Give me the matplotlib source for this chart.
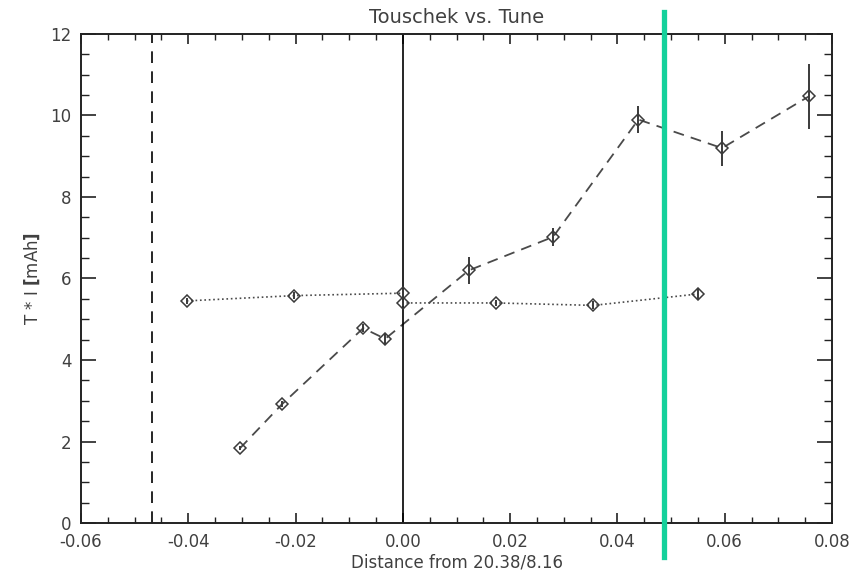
import numpy as np
import matplotlib
matplotlib.use('Agg')
from matplotlib import pyplot as plt
from matplotlib.ticker import MultipleLocator

# dashed scan (with errors)
scan_x = [-0.0304, -0.0225, -0.0074, -0.0033, 0.0123, 0.0280, 0.0439, 0.0595, 0.0757]
scan_y = [1.83, 2.92, 4.78, 4.52, 6.20, 7.02, 9.90, 9.20, 10.47]
scan_err = [0.05, 0.08, 0.10, 0.12, 0.33, 0.22, 0.33, 0.43, 0.80]

# dotted scan
flat_x = [-0.0403, -0.0203, 0.0, 0.0, 0.0174, 0.0355, 0.0550]
flat_y = [5.45, 5.58, 5.64, 5.40, 5.40, 5.34, 5.62]
flat_err = [0.08, 0.08, 0.10, 0.08, 0.08, 0.10, 0.12]

x_limit = -0.0468
x_green = 0.0487

plt.rcParams['font.family'] = 'DejaVu Sans'
fig = plt.figure(figsize=(8.63, 5.79), dpi=100)
ax = fig.add_axes([0.0939, 0.0967, 0.8702, 0.8446])

gray = '#3a3a3a'
ax.errorbar(scan_x, scan_y, yerr=scan_err, fmt='D', ms=6.5, mfc='none', mec=gray, mew=1.1,
            ecolor=gray, elinewidth=1.4, capsize=0, zorder=3)
ax.plot(scan_x, scan_y, '--', color='#4a4a4a', lw=1.3, dashes=(6, 4), zorder=2)
ax.errorbar(flat_x, flat_y, yerr=flat_err, fmt='D', ms=6.5, mfc='none', mec=gray, mew=1.1,
            ecolor=gray, elinewidth=1.4, capsize=0, zorder=3)
ax.plot(flat_x, flat_y, ':', color='#4a4a4a', lw=1.2, zorder=2)

ax.axvline(0.0, color='black', lw=1.2)
ax.axvline(x_limit, color='black', lw=1.2, dashes=(7, 5))
# green marker line runs past the frame top and bottom
ax.plot([x_green, x_green], [-0.07, 1.045], transform=ax.get_xaxis_transform(),
        color='#14d19b', lw=3.8, clip_on=False, zorder=5)

ax.set_xlim(-0.06, 0.08)
ax.set_ylim(0, 12)
ax.xaxis.set_major_locator(MultipleLocator(0.02))
ax.xaxis.set_minor_locator(MultipleLocator(0.005))
ax.yaxis.set_major_locator(MultipleLocator(2))
ax.yaxis.set_minor_locator(MultipleLocator(0.5))
ax.xaxis.set_major_formatter(matplotlib.ticker.FormatStrFormatter('%.2f'))

ax.tick_params(which='both', direction='in', top=True, right=True, color='#222222',
               labelcolor='#404040', labelsize=12)
ax.tick_params(axis='x', which='major', length=7.5, width=1.2, pad=7)
ax.tick_params(axis='x', which='minor', length=4, width=1.0)
ax.tick_params(axis='y', which='major', length=11, width=1.2, pad=7)
ax.tick_params(axis='y', which='minor', length=6, width=1.0)
for s in ax.spines.values():
    s.set_linewidth(1.4)
    s.set_color('#222222')

ax.set_title('Touschek vs. Tune', fontsize=14, color='#404040', pad=8)
ax.set_xlabel('Distance from 20.38/8.16', fontsize=12, color='#404040', labelpad=2)
ax.set_ylabel('T * I $\\mathbf{[}$mAh$\\mathbf{]}$', fontsize=12, color='#404040', labelpad=6)

fig.savefig('out.png', dpi=100)
